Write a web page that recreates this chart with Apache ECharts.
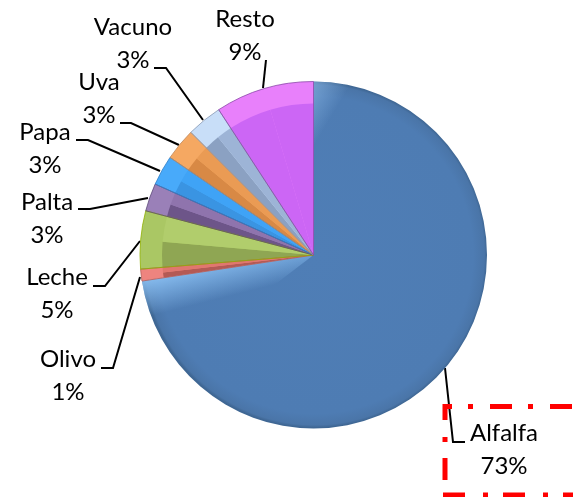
<!DOCTYPE html>
<html>
<head>
<meta charset="utf-8">
<style>html,body{margin:0;padding:0;background:#fff}#c{width:573px;height:497px}</style>
<script src="https://cdn.jsdelivr.net/npm/echarts@6/dist/echarts.min.js"></script>
</head>
<body>
<div id="c"></div>
<script>
// ---- data ----
const categories = ['Alfalfa','Olivo','Leche','Palta','Papa','Uva','Vacuno','Resto'];
const values = [72.6,1.1,5.4,2.6,2.8,3.0,3.3,9.2];

// ---- styles ----
const rimColors   = ['#4f7db5','#ee847f','#aac764','#9a80b8','#48aafa','#f5a862','#c8def8','#e880fb'];
const upperColors = ['#4f7db5','#e0776f','#b1cd6c','#8f74ad','#3fa3f6','#ea9b54','#9db4d6','#cc66f5'];
const lowerColors = ['#4f7db5','#b45a55','#8fa653','#6d5589','#3a94e2','#d88945','#8ba1c2','#cc66f5'];
const edgeColors  = ['#3f6592','#b45a55','#8fb000','#5d4a78','#2f7fc8','#c08a60','#8a9bb5','#8a46a8'];

// ---- label layout (centre of label, then leader points) ----
const labelPos = [[504,450],[68,376],[57,294],[47,219],[45,149],[99,99],[133,44],[245,36]];
const leaders = [
  [[465,442],[453,442],[445,368]],
  [[101,368],[113,368],[140,277]],
  [[93,286],[105,286],[140,241]],
  [[78,209],[90,209],[148,198]],
  [[76,140],[88,140],[160,171]],
  [[120,123],[131,123],[179,145]],
  [[154,68],[166,68],[203,120]],
  [[266,60],[263,88]]
];

const center = [313.5,255];
const R = 173.5;
const quiet = {silent:true, label:{show:false}, labelLine:{show:false}, emphasis:{disabled:true}, tooltip:{show:false},
  type:'pie', center, startAngle:90, clockwise:true, avoidLabelOverlap:false, animation:false};

// main slices: coloured rim, labels and leaders
const mainData = categories.map((name,i)=>({
  name, value:values[i],
  itemStyle:{color: i===0 ? {
    type:'radial',x:0.5,y:0.5,r:0.5,
    colorStops:[{offset:0,color:'#4f7eb6'},{offset:0.92,color:'#4e7cb3'},{offset:0.985,color:'#4a75a8'},{offset:1,color:'#3f6794'}]
  } : rimColors[i]}
}));

// bevel facets: every slice split in two halves
const facetData = [];
values.forEach((v,i)=>{
  if(i===0){ facetData.push({value:v,itemStyle:{color:'rgba(0,0,0,0)'}}); return; }
  facetData.push({value:v/2,itemStyle:{color:lowerColors[i]}});
  facetData.push({value:v/2,itemStyle:{color:upperColors[i]}});
});
const others = values.slice(1).reduce((a,b)=>a+b,0);

// soft highlights on the big slice
const endShare = 8, startShare = 6;
const glowData = [
  {value:startShare,itemStyle:{color:{type:'linear',x:0,y:0,x2:0.45,y2:0.1,colorStops:[{offset:0,color:'rgba(150,195,240,0.55)'},{offset:1,color:'rgba(150,195,240,0)'}]}}},
  {value:values[0]-startShare-endShare,itemStyle:{color:'rgba(0,0,0,0)'}},
  {value:endShare,itemStyle:{color:{type:'linear',x:0,y:0.26,x2:0.05,y2:0.58,colorStops:[{offset:0,color:'rgba(150,205,255,0.75)'},{offset:1,color:'rgba(150,205,255,0)'}]}}},
  {value:others,itemStyle:{color:'rgba(0,0,0,0)'}}
];

// thin slice edges
const edgeData = categories.map((name,i)=>({name,value:values[i],
  itemStyle:{color:'rgba(0,0,0,0)',borderColor:edgeColors[i],borderWidth:i===0?0:0.8}}));

const dashSeg = (points,dash,offset)=>({
  type:'polyline',silent:true,z:50,
  shape:{points},
  style:{stroke:'#ff0000',lineWidth:5,fill:null,lineDash:dash,lineDashOffset:offset}
});

const chart = echarts.init(document.getElementById('c'),null,{renderer:'canvas'});
chart.setOption({
  animation:false,
  backgroundColor:'#ffffff',
  series:[
    {
      type:'pie',center,radius:[0,R],startAngle:90,clockwise:true,avoidLabelOverlap:false,
      percentPrecision:0,z:2,data:mainData,
      label:{show:true,formatter:'{b}\n{d}%',fontFamily:'Lato',fontSize:24,lineHeight:33,color:'#000',align:'center'},
      labelLine:{show:true,length:10,length2:10,lineStyle:{color:'#000',width:2}},
      labelLayout:(p)=>({
        x:labelPos[p.dataIndex][0],y:labelPos[p.dataIndex][1],
        align:'center',verticalAlign:'middle',
        labelLinePoints:leaders[p.dataIndex].length===3?leaders[p.dataIndex]:[leaders[p.dataIndex][0],leaders[p.dataIndex][0],leaders[p.dataIndex][1]]
      }),
      emphasis:{disabled:true}
    },
    Object.assign({},quiet,{radius:[0,R-22],z:3,data:facetData}),
    Object.assign({},quiet,{radius:[0,R],z:4,data:glowData}),
    Object.assign({},quiet,{radius:[0,R],z:5,data:edgeData})
  ],
  graphic:{elements:[
    dashSeg([[443,406.5],[573,406.5]],[22,16,5,17],13),
    dashSeg([[445,404],[445,497]],[22,17,5,16],6),
    dashSeg([[443,495],[573,495]],[22,18,5,15],0)
  ]}
});
</script>
</body>
</html>
